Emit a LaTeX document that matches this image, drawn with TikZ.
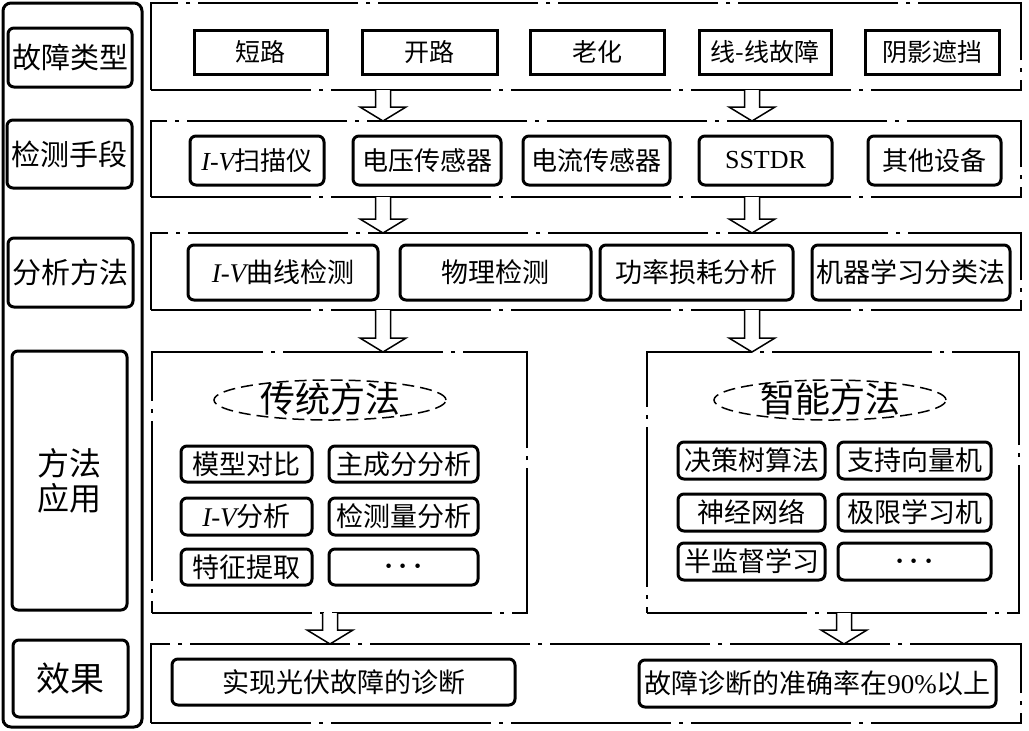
\documentclass[tikz,border=0pt]{standalone}
\usepackage{fontspec}
\setmainfont{Liberation Serif}
\newfontfamily\cjk{Noto Sans CJK SC}
\newfontfamily\lat{Liberation Serif}
\usetikzlibrary{calc,shapes.geometric}
\newcommand{\iv}{{\lat\itshape I-V}}
\newcommand{\bxn}[7]{%
 \pgfmathsetmacro\bxcx{(#3+#5)/2}%
 \pgfmathsetmacro\bxcy{(#4+#6)/2}%
 \pgfmathsetmacro\bxw{(#5-#3)*0.5}%
 \pgfmathsetmacro\bxh{(#6-#4)*0.5}%
 \node[#2, minimum width=\bxw pt, minimum height=\bxh pt] (#1) at (\bxcx,\bxcy) {#7};}
\newcommand{\barrow}[3]{%
 \path (#1,0) coordinate (bax);
 \draw[barr] ($(bax |- #2.south)+(-7.5,0)$) -- ($(bax |- #3.north)+(-7.5,-14)$)
   -- ($(bax |- #3.north)+(-23,-14)$) -- (bax |- #3.north)
   -- ($(bax |- #3.north)+(23,-14)$) -- ($(bax |- #3.north)+(7.5,-14)$)
   -- ($(bax |- #2.south)+(7.5,0)$);}
\newcommand{\mydots}{{\boldmath$\cdots$}}
\begin{document}
\begin{tikzpicture}[x=0.5pt,y=-0.5pt,
 every node/.style={inner sep=0pt, outer sep=0pt},
 lbl/.style={draw, line width=1.5pt, rounded corners=3pt, font=\cjk\fontsize{14.5}{17}\selectfont},
 outerbox/.style={draw, line width=1.5pt, rounded corners=4pt},
 cont/.style={draw, line width=0.75pt, dash pattern=on 80pt off 4pt on 2pt off 4pt},
 sbox/.style={draw, line width=1.5pt, font=\cjk\fontsize{12.5}{15}\selectfont},
 rbox/.style={draw, line width=1.5pt, rounded corners=3pt, font=\cjk\fontsize{13}{15}\selectfont},
 mbox/.style={draw, line width=1.5pt, rounded corners=3pt, font=\cjk\fontsize{13.5}{16}\selectfont},
 ell/.style={ellipse, draw, line width=0.75pt, dash pattern=on 6pt off 3pt},
 etxt/.style={font=\cjk\fontsize{17.5}{20}\selectfont},
 barr/.style={draw, fill=white, line width=0.75pt, line join=miter}]
\useasboundingbox (0,0) rectangle (1029,730);
% left column
\bxn{outer}{outerbox}{3}{3}{142}{727}{}
\bxn{l1}{lbl}{8}{28}{132}{87}{故障类型}
\bxn{l2}{lbl}{7}{120}{132}{188}{检测手段}
\bxn{l3}{lbl}{8}{238}{133}{307}{分析方法}
\bxn{l4}{lbl, font=\cjk\fontsize{16}{17.5}\selectfont, align=center}{12}{351}{127}{610}{方法\\应用}
\bxn{l5}{lbl, font=\cjk\fontsize{17}{20}\selectfont}{13}{640}{128}{717}{效果}
% containers
\bxn{c1}{cont}{151}{3}{1021}{90}{}
\bxn{c2}{cont}{151}{121}{1021}{197}{}
\bxn{c3}{cont}{151}{233}{1021}{310}{}
\bxn{c4l}{cont}{152}{352}{527}{613}{}
\bxn{c4r}{cont}{647}{352}{1019}{613}{}
\bxn{c5}{cont}{151}{644}{1021}{723}{}
% row 1
\bxn{a1}{sbox}{194}{30}{327}{74}{短路}
\bxn{a2}{sbox}{362}{30}{497}{74}{开路}
\bxn{a3}{sbox}{530}{30}{664}{74}{老化}
\bxn{a4}{sbox}{699}{30}{831}{74}{线-线故障}
\bxn{a5}{sbox}{865}{30}{999}{74}{阴影遮挡}
% row 2
\bxn{b1}{rbox}{190}{136}{324}{185}{\iv 扫描仪}
\bxn{b2}{rbox}{353}{136}{501}{185}{电压传感器}
\bxn{b3}{rbox}{523}{136}{670}{185}{电流传感器}
\bxn{b4}{rbox}{699}{136}{832}{185}{{\lat SSTDR}}
\bxn{b5}{rbox}{868}{136}{1001}{185}{其他设备}
% row 3
\bxn{d1}{mbox}{188}{245}{378}{300}{\iv 曲线检测}
\bxn{d2}{mbox}{400}{245}{591}{300}{物理检测}
\bxn{d3}{mbox}{600}{245}{793}{300}{功率损耗分析}
\bxn{d4}{mbox}{812}{245}{1010}{300}{机器学习分类法}
% row 4 left
\node[ell, minimum width=116pt, minimum height=20pt] (e1) at (330,400) {};
\node[etxt] (e1t) at (330,399) {传统方法};
\bxn{f1}{mbox}{181}{446}{312}{482}{模型对比}
\bxn{f2}{mbox}{329}{446}{478}{482}{主成分分析}
\bxn{f3}{mbox}{181}{498}{312}{535}{\iv 分析}
\bxn{f4}{mbox}{329}{498}{478}{535}{检测量分析}
\bxn{f5}{mbox}{181}{549}{312}{585}{特征提取}
\bxn{f6}{mbox}{329}{549}{478}{585}{\mydots}
% row 4 right
\node[ell, minimum width=116pt, minimum height=20pt] (e2) at (830,400) {};
\node[etxt] (e2t) at (830,399) {智能方法};
\bxn{g1}{mbox}{678}{442}{825}{479}{决策树算法}
\bxn{g2}{mbox}{838}{442}{991}{479}{支持向量机}
\bxn{g3}{mbox}{678}{494}{825}{531}{神经网络}
\bxn{g4}{mbox}{838}{494}{991}{531}{极限学习机}
\bxn{g5}{mbox}{678}{543}{825}{580}{半监督学习}
\bxn{g6}{mbox}{838}{543}{991}{580}{\mydots}
% row 5
\bxn{h1}{mbox}{172}{659}{515}{705}{实现光伏故障的诊断}
\bxn{h2}{mbox}{639}{660}{996}{707}{故障诊断的准确率在{\lat 90\%}以上}
% arrows
\barrow{383}{c1}{c2}
\barrow{752}{c1}{c2}
\barrow{383}{c2}{c3}
\barrow{752}{c2}{c3}
\barrow{383}{c3}{c4l}
\barrow{752}{c3}{c4r}
\barrow{330}{c4l}{c5}
\barrow{844}{c4r}{c5}
\end{tikzpicture}
\end{document}
